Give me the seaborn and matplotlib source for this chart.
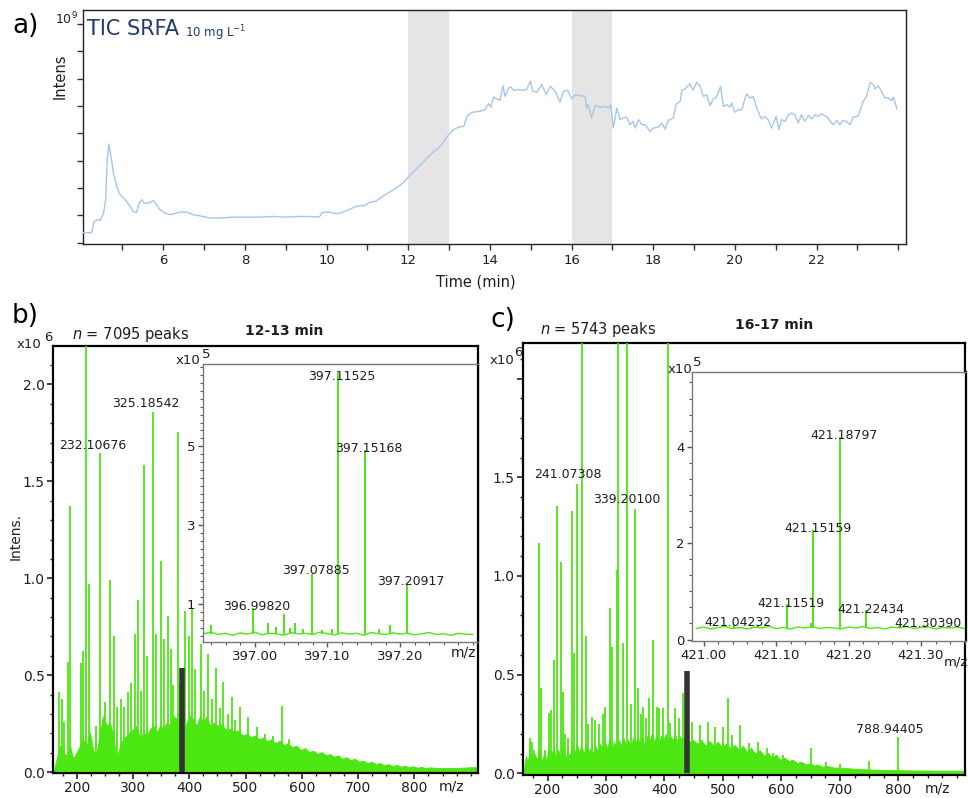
import matplotlib
matplotlib.use("Agg")
import matplotlib.pyplot as plt
import seaborn as sns
from matplotlib.ticker import MultipleLocator, FixedLocator

sns.set_theme(style="ticks")
plt.rcParams['font.family'] = ['DejaVu Sans']

# ---------------- data: panel a (TIC) ----------------
tic_time = [4.03, 4.25, 4.31, 4.39, 4.46, 4.54, 4.59, 4.63, 4.67, 4.72, 4.78, 4.86, 4.94, 5.07, 5.19, 5.27,
            5.35, 5.41, 5.47, 5.53, 5.63, 5.76, 5.84, 5.92, 6.04, 6.16, 6.28, 6.41, 6.57, 6.73, 6.89, 7.14,
            7.38, 7.71, 8.03, 8.36, 8.68, 9.01, 9.33, 9.66, 9.82, 9.90, 10.07, 10.23, 10.35, 10.51, 10.72,
            10.96, 11.04, 11.20, 11.37, 11.53, 11.69, 11.81, 11.89, 11.98, 12.10, 12.22, 12.34, 12.50, 12.63,
            12.75, 12.87, 12.99, 13.11, 13.24, 13.36, 13.44, 13.56, 13.76,
            13.88, 13.97, 14.02, 14.09, 14.17, 14.25, 14.32, 14.37, 14.46, 14.51, 14.58, 14.70, 14.82, 14.90,
            14.99, 15.05, 15.15, 15.27, 15.38, 15.48, 15.60, 15.72, 15.80, 15.90, 16.01, 16.09, 16.21, 16.33,
            16.37, 16.41, 16.49, 16.58, 16.70, 16.82, 16.90, 16.96, 17.02, 17.11, 17.19, 17.27, 17.35, 17.43,
            17.51, 17.56, 17.64, 17.72, 17.80, 17.92, 18.00, 18.13, 18.21, 18.29, 18.37, 18.49, 18.57, 18.66,
            18.70, 18.78, 18.90, 18.98, 19.06, 19.15, 19.23, 19.31, 19.39, 19.47, 19.55, 19.65, 19.72, 19.80,
            19.88, 19.92, 20.00, 20.08, 20.17, 20.25, 20.29, 20.37, 20.45, 20.53, 20.65, 20.74, 20.82, 20.90,
            21.01, 21.08, 21.14, 21.23, 21.31, 21.39, 21.47, 21.55, 21.63, 21.71, 21.80, 21.88, 21.96, 22.04,
            22.12, 22.25, 22.33, 22.41, 22.49, 22.57, 22.65, 22.73, 22.82, 22.90, 23.02, 23.14, 23.22, 23.31,
            23.39, 23.43, 23.51, 23.59, 23.67, 23.75, 23.84, 23.88, 23.97]
tic_int = [0.046, 0.046, 0.098, 0.105, 0.102, 0.136, 0.197, 0.380, 0.451, 0.395, 0.319, 0.258, 0.220, 0.197,
           0.166, 0.140, 0.139, 0.181, 0.197, 0.181, 0.181, 0.192, 0.174, 0.151, 0.136, 0.128, 0.133, 0.140,
           0.140, 0.128, 0.123, 0.113, 0.113, 0.117, 0.117, 0.117, 0.120, 0.117, 0.120, 0.119, 0.117, 0.139,
           0.140, 0.133, 0.136, 0.148, 0.166, 0.171, 0.184, 0.189, 0.212, 0.230, 0.248, 0.265, 0.276, 0.296,
           0.319, 0.341, 0.364, 0.395, 0.418, 0.433, 0.463, 0.494, 0.517, 0.529, 0.532, 0.578, 0.596, 0.601,
           0.608, 0.636, 0.620, 0.666, 0.657, 0.651, 0.718, 0.669, 0.707, 0.712, 0.697, 0.700, 0.697, 0.700,
           0.739, 0.692, 0.688, 0.723, 0.677, 0.715, 0.692, 0.642, 0.692, 0.697, 0.657, 0.677, 0.672, 0.669,
           0.616, 0.631, 0.570, 0.627, 0.620, 0.623, 0.616, 0.631, 0.524, 0.616, 0.563, 0.570, 0.575, 0.540,
           0.555, 0.524, 0.563, 0.540, 0.540, 0.509, 0.524, 0.529, 0.547, 0.520, 0.559, 0.570, 0.636, 0.646,
           0.697, 0.703, 0.727, 0.697, 0.733, 0.715, 0.669, 0.677, 0.627, 0.657, 0.666, 0.715, 0.623, 0.631,
           0.620, 0.639, 0.596, 0.608, 0.608, 0.662, 0.680, 0.662, 0.669, 0.616, 0.566, 0.578, 0.559, 0.524,
           0.578, 0.517, 0.563, 0.555, 0.585, 0.593, 0.585, 0.547, 0.585, 0.555, 0.581, 0.566, 0.585, 0.578,
           0.590, 0.575, 0.555, 0.540, 0.559, 0.540, 0.559, 0.555, 0.540, 0.575, 0.578, 0.646, 0.666, 0.733,
           0.723, 0.703, 0.718, 0.692, 0.662, 0.662, 0.651, 0.666, 0.611]
shade_windows = [(12.0, 13.0), (16.0, 17.0)]
tic_xticks = [6, 8, 10, 12, 14, 16, 18, 20, 22]
tic_xminor = [5, 7, 9, 11, 13, 15, 17, 19, 21, 23, 24]
tic_yticks = [0.0, 0.125, 0.25, 0.375, 0.5, 0.625, 0.75, 0.875, 1.0]

# ---------------- data: panel b (12-13 min) ----------------
b_grass_mz = [158, 160, 164.5, 170.4, 176.3, 182.2, 188.2, 194.1, 200, 205.9, 211.8, 217.8, 223.7, 229.6,
              235.5, 241.5, 247.4, 253.3, 259.2, 265.2, 271.1, 277, 282.9, 288.9, 294.8, 300.7, 306.6, 312.6,
              318.5, 324.4, 330.3, 336.3, 342.2, 348.1, 354, 360, 365.9, 371.8, 377.7, 383.6, 389.6, 395.5,
              401.4, 407.3, 413.3, 419.2, 425.1, 431, 437, 442.9, 450, 457, 465, 472.5, 480, 487, 495, 502,
              510, 517, 524, 531.7, 539, 546, 553, 561, 568, 575, 583, 591, 598, 606, 613, 620.6, 628, 635,
              643, 650, 657, 665, 672, 680, 687, 694, 702, 709, 717, 724, 732, 739, 746, 754, 761, 769, 776,
              783, 791, 798, 806, 813, 820, 828, 843, 858, 873, 888, 900, 913]
b_grass_int = [0.0, 0.017, 0.069, 0.137, 0.103, 0.086, 0.137, 0.069, 0.103, 0.137, 0.171, 0.137, 0.206, 0.111,
               0.103, 0.206, 0.291, 0.24, 0.257, 0.189, 0.069, 0.137, 0.171, 0.189, 0.206, 0.223, 0.24, 0.171,
               0.206, 0.189, 0.223, 0.24, 0.206, 0.24, 0.223, 0.257, 0.24, 0.291, 0.274, 0.24, 0.206, 0.257,
               0.291, 0.274, 0.24, 0.291, 0.257, 0.291, 0.24, 0.257, 0.24, 0.25, 0.22, 0.223, 0.21, 0.215, 0.19,
               0.197, 0.18, 0.19, 0.17, 0.18, 0.16, 0.17, 0.15, 0.163, 0.14, 0.15, 0.13, 0.137, 0.115, 0.125,
               0.105, 0.111, 0.095, 0.104, 0.088, 0.094, 0.08, 0.087, 0.07, 0.077, 0.062, 0.07, 0.055, 0.06,
               0.047, 0.054, 0.042, 0.048, 0.036, 0.042, 0.032, 0.038, 0.028, 0.034, 0.026, 0.031, 0.023, 0.028,
               0.022, 0.025, 0.022, 0.022, 0.022, 0.024, 0.026, 0.026]
b_peak_mz = [169.2, 173.3, 177.0, 185.2, 188.2, 194.0, 207.1, 210.7, 216.6, 222.5, 228.0, 235.0, 241.0, 246.0,
             250.4, 253.0, 258.6, 266.3, 271.0, 278.2, 284.0, 291.8, 296.0, 303.7, 309.6, 315.0, 320.3, 324.5,
             336.3, 341.0, 350.5, 355.0, 362.0, 367.5, 372.0, 379.5, 384.0, 392.5, 400.3, 404.4, 411.0, 420.4,
             427.0, 434.0, 441.0, 447.6, 454.0, 460.7, 468.0, 475.5, 482.0, 490.3, 505.0, 519.7, 534.0, 549.0,
             564.3, 578.0]
b_peak_int = [0.415, 0.377, 0.257, 0.566, 1.371, 0.08, 0.562, 0.626, 2.5, 0.97, 0.12, 0.24, 1.645, 0.274, 0.36,
              0.21, 0.99, 0.703, 0.334, 0.38, 0.334, 0.415, 0.459, 0.711, 0.888, 0.42, 1.585, 0.6, 1.856, 0.711,
              1.088, 0.686, 0.806, 0.634, 0.45, 1.757, 0.45, 0.831, 0.703, 0.848, 0.531, 0.66, 0.42, 0.608, 0.38,
              0.54, 0.33, 0.463, 0.3, 0.386, 0.27, 0.334, 0.283, 0.231, 0.197, 0.189, 0.339, 0.17]
b_bar_mz, b_bar_int = 387.8, 0.54
b_labels = ['232.10676', '325.18542']
b_lab_x = [229.0, 323.2]
b_lab_y = [1.666, 1.882]

b_in_base_mz = [396.93, 396.94, 396.95, 396.96, 396.97, 396.98, 396.99, 397.00, 397.01, 397.02, 397.03,
                397.04, 397.05, 397.06, 397.07, 397.08, 397.09, 397.10, 397.11, 397.12, 397.13, 397.14,
                397.15, 397.16, 397.17, 397.18, 397.19, 397.20, 397.21, 397.22, 397.23, 397.24, 397.25,
                397.26, 397.27, 397.28, 397.29, 397.30]
b_in_base_int = [0.26, 0.30, 0.24, 0.27, 0.22, 0.28, 0.25, 0.30, 0.23, 0.27, 0.26, 0.22, 0.29, 0.25, 0.27,
                 0.24, 0.30, 0.26, 0.23, 0.28, 0.25, 0.27, 0.22, 0.29, 0.26, 0.24, 0.28, 0.25, 0.27, 0.23,
                 0.26, 0.29, 0.24, 0.26, 0.22, 0.27, 0.25, 0.24]
b_in_pk_mz = [396.940, 396.9982, 397.019, 397.030, 397.040, 397.048, 397.056, 397.067, 397.07885, 397.092,
              397.106, 397.11525, 397.15168, 397.171, 397.186, 397.20917]
b_in_pk_int = [0.48, 0.90, 0.52, 0.44, 0.75, 0.40, 0.52, 0.38, 1.78, 0.36, 0.38, 6.85, 4.91, 0.38, 0.47, 1.51]
b_in_labels = ['397.11525', '397.15168', '397.07885', '397.20917', '396.99820']
b_in_lab_x = [397.1204, 397.157, 397.084, 397.215, 397.003]
b_in_lab_y = [6.68, 4.86, 1.77, 1.49, 0.87]

# ---------------- data: panel c (16-17 min) ----------------
c_grass_mz = [158, 160, 163, 166, 170, 174, 178, 182, 186, 190, 194, 198, 202, 206, 210, 214, 218, 222, 226,
              230, 234, 238, 242, 246, 250, 254, 258, 262, 266, 270, 274, 278, 282, 286, 290, 294, 298, 302,
              306, 310, 314, 318, 322, 326, 330, 334, 338, 342, 346, 350, 354, 358, 362, 366, 370, 374, 378,
              382, 386, 390, 394, 398, 402, 406, 410, 414, 418, 422, 426, 430, 436, 442, 449, 456, 463, 470,
              477, 484, 491, 498, 506, 513, 520, 527, 534, 541, 548, 555, 563, 570, 577, 584, 591, 598, 606,
              613, 620, 628, 635, 642, 649, 656, 663, 670, 677, 690, 705, 720, 735, 750, 765, 780, 795, 810,
              830, 850, 870, 890, 914]
c_grass_int = [0.0, 0.03, 0.09, 0.06, 0.12, 0.08, 0.10, 0.07, 0.12, 0.06, 0.10, 0.07, 0.12, 0.09, 0.13, 0.08,
               0.12, 0.09, 0.13, 0.07, 0.11, 0.09, 0.14, 0.10, 0.15, 0.11, 0.14, 0.10, 0.15, 0.11, 0.13, 0.10,
               0.14, 0.11, 0.15, 0.12, 0.16, 0.13, 0.17, 0.13, 0.16, 0.12, 0.17, 0.14, 0.18, 0.14, 0.17, 0.13,
               0.18, 0.15, 0.19, 0.15, 0.18, 0.14, 0.19, 0.16, 0.20, 0.16, 0.19, 0.15, 0.19, 0.17, 0.20, 0.16,
               0.19, 0.17, 0.20, 0.16, 0.19, 0.17, 0.19, 0.16, 0.17, 0.15, 0.17, 0.14, 0.165, 0.14, 0.16, 0.135,
               0.152, 0.125, 0.145, 0.12, 0.14, 0.11, 0.13, 0.10, 0.118, 0.09, 0.105, 0.08, 0.095, 0.07, 0.08,
               0.062, 0.068, 0.05, 0.058, 0.045, 0.051, 0.04, 0.045, 0.034, 0.038, 0.03, 0.028, 0.025, 0.022,
               0.02, 0.019, 0.018, 0.017, 0.016, 0.015, 0.015, 0.014, 0.014, 0.014]
c_peak_mz = [169.8, 173.0, 176.0, 185.2, 188.6, 195.0, 202.3, 205.7, 210.8, 216.5, 222.2, 226.8, 230.0, 235.0,
             241.1, 245.1, 250.8, 258.2, 265.0, 270.0, 275.3, 281.0, 288.0, 294.0, 298.1, 306.7, 310.7, 318.1,
             321.0, 328.4, 336.3, 342.0, 349.5, 355.2, 360.0, 363.7, 368.0, 373.4, 379.7, 386.5, 391.0, 398.0,
             405.4, 410.0, 418.0, 424.0, 431.0, 446.4, 460.7, 474.9, 486.4, 500.6, 509.2, 514.9, 529.2, 545.1,
             560.6, 574.8, 586.2, 603.3, 617.6, 631.9, 650.1, 660.4, 676.3, 700.3, 750.5, 800.2]
c_peak_int = [0.177, 0.16, 0.12, 1.166, 0.431, 0.12, 0.304, 0.321, 0.574, 1.356, 1.073, 0.414, 0.2, 0.18, 1.329,
              0.608, 1.465, 2.5, 0.696, 0.25, 0.287, 0.27, 0.25, 0.3, 0.338, 0.836, 0.642, 1.03, 2.5, 0.659, 2.5,
              0.35, 1.34, 0.431, 0.3, 0.338, 0.28, 0.38, 0.676, 0.338, 0.33, 0.329, 2.5, 0.253, 0.329, 0.28,
              0.405, 0.262, 0.245, 0.262, 0.236, 0.236, 0.38, 0.194, 0.245, 0.152, 0.16, 0.127, 0.101, 0.093,
              0.068, 0.059, 0.127, 0.042, 0.059, 0.047, 0.064, 0.182]
c_bar_mz, c_bar_int = 437.9, 0.52
c_labels = ['241.07308', '339.20100', '788.94405']
c_lab_x = [235.4, 335.2, 784.8]
c_lab_y = [1.495, 1.37, 0.203]

c_in_base_mz = [420.99, 421.00, 421.01, 421.02, 421.03, 421.04, 421.05, 421.06, 421.07, 421.08, 421.09,
                421.10, 421.11, 421.12, 421.13, 421.14, 421.15, 421.16, 421.17, 421.18, 421.19, 421.20,
                421.21, 421.22, 421.23, 421.24, 421.25, 421.26, 421.27, 421.28, 421.29, 421.30, 421.31,
                421.32, 421.33, 421.34, 421.35, 421.36]
c_in_base_int = [0.23, 0.26, 0.22, 0.25, 0.27, 0.23, 0.25, 0.22, 0.26, 0.24, 0.27, 0.23, 0.25, 0.22, 0.26,
                 0.24, 0.27, 0.23, 0.25, 0.24, 0.22, 0.26, 0.24, 0.27, 0.23, 0.25, 0.22, 0.26, 0.24, 0.27,
                 0.23, 0.25, 0.26, 0.22, 0.25, 0.24, 0.26, 0.23]
c_in_pk_mz = [421.04232, 421.075, 421.11519, 421.148, 421.15159, 421.18797, 421.22434, 421.27, 421.30390]
c_in_pk_int = [0.32, 0.30, 0.73, 0.35, 2.27, 4.20, 0.615, 0.28, 0.30]
c_in_labels = ['421.18797', '421.15159', '421.11519', '421.22434', '421.04232', '421.30390']
c_in_lab_x = [421.194, 421.158, 421.121, 421.231, 421.047, 421.310]
c_in_lab_y = [4.16, 2.24, 0.68, 0.56, 0.29, 0.27]

# ---------------- styling ----------------
W, H = 968, 798
GREEN = '#4ce612'
TXT = '#1e1e1e'
fig = plt.figure(figsize=(W / 100, H / 100), dpi=100)


def box(l, t, r, b):
    return [l / W, 1 - b / H, (r - l) / W, (b - t) / H]


def ftext(x, y, s, **kw):
    fig.text(x / W, 1 - y / H, s, **kw)


# ---------------- panel a ----------------
axa = fig.add_axes(box(83, 10, 906, 244))
for t0, t1 in shade_windows:
    axa.axvspan(t0, t1, color='#e5e5e5', lw=0, zorder=0)
sns.lineplot(x=tic_time, y=tic_int, ax=axa, color='#a6c6ea', lw=1.0, sort=False, estimator=None, zorder=3)
axa.set_xlim(4.035, 24.19)
axa.set_ylim(-0.006, 1.064)
axa.set_xticks(tic_xticks)
axa.set_xticklabels([str(t) for t in tic_xticks])
axa.xaxis.set_minor_locator(FixedLocator(tic_xminor))
axa.set_yticks(tic_yticks)
axa.set_yticklabels([])
axa.tick_params(axis='both', which='both', direction='out', length=4, width=1, colors='#333333',
                labelsize=9.5, labelcolor=TXT, pad=3)
for s in axa.spines.values():
    s.set_color('#222222')
    s.set_linewidth(1.0)
axa.set_xlabel('')
axa.set_ylabel('')
ftext(476, 282, 'Time (min)', ha='center', va='center', fontsize=10.5, color=TXT)
ftext(60, 76, 'Intens', ha='center', va='center', rotation=90, fontsize=10.5, color=TXT)
ftext(55, 19, '10$^{9}$', ha='left', va='center', fontsize=9, color=TXT)
ftext(87, 29, 'TIC SRFA', ha='left', va='center', fontsize=15, color='#1f3a6e')
ftext(185, 33, '10 mg L$^{-1}$', ha='left', va='center', fontsize=8.5, color='#1f3a6e')
ftext(12, 26, 'a)', ha='left', va='center', fontsize=19, color='black')


# ---------------- spectra helpers ----------------
def draw_main(ax, gmz, gint, pmz, pint, bar_mz, bar_int, labels, lx, ly, xlim, ylim, ylabels):
    ax.fill_between(gmz, 0, gint, color=GREEN, lw=0.6, edgecolor=GREEN, zorder=2)
    ax.vlines(pmz, 0, pint, color=GREEN, lw=1.3, zorder=3)
    ax.vlines([bar_mz], 0, [bar_int], color='#333333', lw=4, zorder=4)
    for s, x, y in zip(labels, lx, ly):
        ax.text(x, y, s, ha='center', va='baseline', fontsize=9, color=TXT, zorder=5)
    ax.set_xlim(*xlim)
    ax.set_ylim(*ylim)
    ax.set_xticks([200, 300, 400, 500, 600, 700, 800])
    ax.xaxis.set_minor_locator(MultipleLocator(25))
    ax.set_yticks([0.0, 0.5, 1.0, 1.5, 2.0])
    ax.set_yticklabels(ylabels)
    ax.yaxis.set_minor_locator(MultipleLocator(0.1))
    ax.tick_params(axis='both', which='major', direction='out', length=4, width=1.2, colors='#222222',
                   labelsize=10, labelcolor=TXT, pad=2)
    ax.tick_params(axis='both', which='minor', direction='out', length=2.5, width=1.0, colors='#222222')
    for s in ax.spines.values():
        s.set_color('black')
        s.set_linewidth(1.6)


def draw_inset(ax, bmz, bint, pmz, pint, base, labels, lx, ly, xlim, ylim, xt, xtl, yt, yminor):
    sns.lineplot(x=bmz, y=bint, ax=ax, color=GREEN, lw=1.0, estimator=None, sort=False, zorder=2)
    ax.vlines(pmz, base, pint, color=GREEN, lw=1.4, zorder=3)
    for s, x, y in zip(labels, lx, ly):
        ax.text(x, y, s, ha='center', va='baseline', fontsize=9, color=TXT, zorder=5)
    ax.set_xlim(*xlim)
    ax.set_ylim(*ylim)
    ax.set_xticks(xt)
    ax.set_xticklabels(xtl)
    ax.xaxis.set_minor_locator(MultipleLocator(0.02))
    ax.set_yticks(yt)
    ax.set_yticklabels([str(v) for v in yt])
    ax.yaxis.set_minor_locator(MultipleLocator(yminor))
    ax.tick_params(axis='both', which='major', direction='out', length=3.5, width=1.0, colors='#555555',
                   labelsize=9.5, labelcolor=TXT, pad=2)
    ax.tick_params(axis='both', which='minor', direction='out', length=2, width=0.8, colors='#555555')
    for k, s in ax.spines.items():
        s.set_color('#7a7a7a')
        s.set_linewidth(1.0)
    ax.spines['right'].set_color('black')
    ax.spines['right'].set_linewidth(1.6)
    ax.set_xlabel('')
    ax.set_ylabel('')
    ax.set_facecolor('white')


# ---------------- panel b ----------------
axb = fig.add_axes(box(53, 346, 478, 773))
draw_main(axb, b_grass_mz, b_grass_int, b_peak_mz, b_peak_int, b_bar_mz, b_bar_int,
          b_labels, b_lab_x, b_lab_y, (158, 913), (-0.004, 2.198), ['0.0', '0.5', '1.0', '1.5', '2.0'])
axbi = fig.add_axes(box(203, 364, 478, 642))
draw_inset(axbi, b_in_base_mz, b_in_base_int, b_in_pk_mz, b_in_pk_int, 0.25, b_in_labels, b_in_lab_x,
           b_in_lab_y, (396.929, 397.307), (0.05, 7.08), [397.0, 397.1, 397.2], ['397.00', '397.10', '397.20'],
           [1, 3, 5], 0.2)
ftext(464, 653, 'm/z', ha='center', va='center', fontsize=10, color=TXT)
ftext(452, 786, 'm/z', ha='center', va='center', fontsize=10, color=TXT)
ftext(12, 316, 'b)', ha='left', va='center', fontsize=19, color='black')
ftext(17, 344, 'x10', ha='left', va='center', fontsize=9.5, color=TXT)
ftext(44, 338, '6', ha='left', va='center', fontsize=9.5, color=TXT)
ftext(72, 335, '$\\it{n}$ = 7095 peaks', ha='left', va='center', fontsize=10.5, color=TXT)
ftext(284, 331, '12-13 min', ha='center', va='center', fontsize=10, fontweight='bold', color=TXT)
ftext(16, 537, 'Intens.', ha='center', va='center', rotation=90, fontsize=10, color=TXT)
ftext(176, 361, 'x10', ha='left', va='center', fontsize=9.5, color=TXT)
ftext(202, 355, '5', ha='left', va='center', fontsize=9.5, color=TXT)

# ---------------- panel c ----------------
axc = fig.add_axes(box(523, 343, 965, 775))
draw_main(axc, c_grass_mz, c_grass_int, c_peak_mz, c_peak_int, c_bar_mz, c_bar_int,
          c_labels, c_lab_x, c_lab_y, (158, 914), (-0.008, 2.18), ['0.0', '0.5', '1.0', '1.5', ''])
axci = fig.add_axes(box(692, 372, 966, 641))
draw_inset(axci, c_in_base_mz, c_in_base_int, c_in_pk_mz, c_in_pk_int, 0.24, c_in_labels, c_in_lab_x,
           c_in_lab_y, (420.984, 421.362), (-0.03, 5.55), [421.0, 421.1, 421.2, 421.3],
           ['421.00', '421.10', '421.20', '421.30'], [0, 2, 4], 1 / 3)
ftext(968, 662, 'm/z', ha='right', va='center', fontsize=9.5, color=TXT)
ftext(937, 788, 'm/z', ha='center', va='center', fontsize=10, color=TXT)
ftext(490, 320, 'c)', ha='left', va='center', fontsize=19, color='black')
ftext(490, 360, 'x10', ha='left', va='center', fontsize=9.5, color=TXT)
ftext(514, 352, '6', ha='left', va='center', fontsize=9.5, color=TXT)
ftext(540, 330, '$\\it{n}$ = 5743 peaks', ha='left', va='center', fontsize=10.5, color=TXT)
ftext(774, 325, '16-17 min', ha='center', va='center', fontsize=10, fontweight='bold', color=TXT)
ftext(668, 370, 'x10', ha='left', va='center', fontsize=9.5, color=TXT)
ftext(693, 363, '5', ha='left', va='center', fontsize=9.5, color=TXT)

fig.savefig('out.png', dpi=100, facecolor='white')
